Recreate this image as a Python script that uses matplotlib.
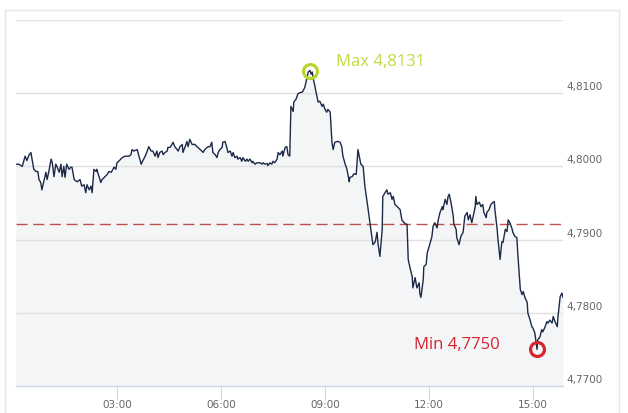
import matplotlib
matplotlib.use("Agg")
import matplotlib.pyplot as plt
from matplotlib.patches import Rectangle
import numpy as np

# minutes after midnight
minutes = [5, 10, 16, 21, 24, 28, 31, 35, 36, 40, 43, 45, 48, 50, 54, 57, 59, 62, 66, 68,
           71, 74, 76, 80, 83, 85, 88, 90, 93, 97, 100, 102, 106, 111, 116, 119, 123, 126, 128, 132,
           135, 137, 140, 144, 145, 149, 152, 154, 158, 163, 166, 170, 175, 178, 180, 183, 189, 194, 201, 204,
           206, 209, 215, 218, 222, 223, 230, 235, 239, 242, 246, 249, 251, 254, 258, 260, 263, 267, 268, 272,
           275, 277, 280, 284, 286, 289, 293, 294, 298, 301, 303, 306, 310, 312, 315, 318, 320, 324, 327, 329,
           332, 336, 338, 341, 344, 346, 350, 353, 355, 358, 362, 363, 367, 370, 372, 376, 379, 381, 384, 388,
           389, 393, 396, 398, 402, 405, 407, 410, 414, 415, 419, 422, 424, 428, 431, 433, 436, 440, 441, 445,
           448, 450, 453, 457, 459, 462, 466, 467, 471, 474, 476, 479, 481, 485, 486, 490, 493, 497, 500, 502,
           505, 507, 509, 511, 514, 516, 518, 519, 521, 523, 524, 526, 528, 531, 535, 537, 540, 543, 545, 549,
           552, 554, 557, 561, 563, 566, 569, 571, 575, 578, 582, 583, 587, 590, 594, 597, 602, 606, 609, 614,
           618, 621, 623, 627, 630, 632, 635, 639, 640, 644, 647, 649, 653, 656, 658, 661, 665, 670, 673, 677,
           680, 682, 684, 687, 691, 692, 696, 699, 703, 704, 706, 710, 711, 715, 717, 720, 725, 727, 730, 734,
           736, 739, 743, 744, 748, 751, 753, 755, 758, 762, 763, 767, 768, 772, 775, 779, 782, 786, 788, 791,
           794, 796, 800, 801, 803, 807, 810, 813, 815, 819, 820, 824, 827, 831, 833, 834, 838, 839, 843, 846,
           848, 852, 855, 857, 860, 864, 865, 869, 872, 874, 878, 881, 883, 886, 890, 891, 895, 898, 900, 903,
           907, 908, 912, 915, 917, 921, 924, 926, 929, 933, 935, 938, 942, 943, 947, 950, 952]

rates = [4.8003, 4.8003, 4.8000, 4.8014, 4.8008, 4.8016, 4.8019, 4.8000, 4.7996, 4.7993,
         4.7993, 4.7982, 4.7978, 4.7968, 4.7982, 4.7992, 4.7982, 4.7993, 4.8010, 4.8005,
         4.7986, 4.8003, 4.8000, 4.7992, 4.8003, 4.7986, 4.8000, 4.7985, 4.8003, 4.7996,
         4.7999, 4.7999, 4.7982, 4.7979, 4.7982, 4.7973, 4.7975, 4.7964, 4.7975, 4.7968,
         4.7973, 4.7964, 4.7996, 4.7993, 4.7996, 4.7986, 4.7978, 4.7982, 4.7985, 4.7989,
         4.7993, 4.7992, 4.7999, 4.7996, 4.8005, 4.8007, 4.8012, 4.8014, 4.8014, 4.8016,
         4.8023, 4.8021, 4.8023, 4.8014, 4.8003, 4.8005, 4.8016, 4.8027, 4.8021, 4.8021,
         4.8014, 4.8021, 4.8012, 4.8019, 4.8021, 4.8016, 4.8019, 4.8021, 4.8026, 4.8026,
         4.8030, 4.8033, 4.8027, 4.8023, 4.8021, 4.8027, 4.8030, 4.8019, 4.8027, 4.8034,
         4.8027, 4.8037, 4.8030, 4.8030, 4.8030, 4.8027, 4.8026, 4.8023, 4.8021, 4.8019,
         4.8023, 4.8026, 4.8027, 4.8027, 4.8033, 4.8019, 4.8016, 4.8012, 4.8019, 4.8023,
         4.8026, 4.8033, 4.8034, 4.8026, 4.8019, 4.8021, 4.8014, 4.8019, 4.8012, 4.8014,
         4.8010, 4.8012, 4.8007, 4.8012, 4.8007, 4.8010, 4.8007, 4.8010, 4.8005, 4.8007,
         4.8003, 4.8005, 4.8005, 4.8005, 4.8003, 4.8005, 4.8003, 4.8004, 4.8001, 4.8005,
         4.8003, 4.8007, 4.8005, 4.8010, 4.8019, 4.8016, 4.8021, 4.8014, 4.8026, 4.8027,
         4.8016, 4.8014, 4.8082, 4.8075, 4.8088, 4.8092, 4.8099, 4.8101, 4.8101, 4.8103,
         4.8108, 4.8115, 4.8122, 4.8129, 4.8131, 4.8126, 4.8129, 4.8123, 4.8115, 4.8108,
         4.8103, 4.8096, 4.8088, 4.8089, 4.8082, 4.8085, 4.8078, 4.8074, 4.8078, 4.8074,
         4.8033, 4.8023, 4.8033, 4.8034, 4.8034, 4.8033, 4.8027, 4.8014, 4.8003, 4.7996,
         4.7979, 4.7985, 4.7986, 4.7990, 4.7989, 4.8023, 4.8003, 4.8000, 4.7973, 4.7945,
         4.7921, 4.7904, 4.7893, 4.7897, 4.7910, 4.7893, 4.7877, 4.7914, 4.7959, 4.7964,
         4.7968, 4.7962, 4.7964, 4.7955, 4.7959, 4.7948, 4.7945, 4.7941, 4.7927, 4.7923,
         4.7921, 4.7921, 4.7873, 4.7862, 4.7849, 4.7834, 4.7848, 4.7834, 4.7841, 4.7827,
         4.7821, 4.7845, 4.7863, 4.7866, 4.7882, 4.7890, 4.7904, 4.7918, 4.7923, 4.7916,
         4.7927, 4.7937, 4.7945, 4.7941, 4.7955, 4.7948, 4.7959, 4.7962, 4.7951, 4.7932,
         4.7921, 4.7914, 4.7903, 4.7893, 4.7904, 4.7910, 4.7932, 4.7937, 4.7927, 4.7934,
         4.7923, 4.7930, 4.7945, 4.7959, 4.7948, 4.7951, 4.7945, 4.7948, 4.7937, 4.7930,
         4.7937, 4.7941, 4.7948, 4.7951, 4.7952, 4.7941, 4.7914, 4.7903, 4.7873, 4.7897,
         4.7896, 4.7914, 4.7911, 4.7927, 4.7923, 4.7914, 4.7910, 4.7904, 4.7903, 4.7877,
         4.7832, 4.7825, 4.7829, 4.7821, 4.7814, 4.7800, 4.7790, 4.7781, 4.7779, 4.7773,
         4.7750, 4.7763, 4.7767, 4.7777, 4.7774, 4.7781, 4.7788, 4.7786, 4.7790, 4.7786,
         4.7795, 4.7788, 4.7781, 4.7793, 4.7822, 4.7827, 4.7821]

y_ticks = [4.77, 4.78, 4.79, 4.80, 4.81, 4.82]
y_labels = ["4,7700", "4,7800", "4,7900", "4,8000", "4,8100", ""]
x_ticks = [180, 360, 540, 720, 900]
x_labels = ["03:00", "06:00", "09:00", "12:00", "15:00"]
ref_rate = 4.7921
max_label = "Max 4,8131"
min_label = "Min 4,7750"

W, H = 628, 413
fig = plt.figure(figsize=(W / 100, H / 100), dpi=100)
fig.patches.append(Rectangle((5 / W, -0.1), 614 / W, 1 - 10 / H + 0.1,
                             transform=fig.transFigure, fill=False,
                             edgecolor='#e6e6e6', lw=1))
ax = fig.add_axes([16 / W, 1 - 386 / H, 547 / W, 366 / H])
ax.set_xlim(5.2, 951.9)
ax.set_ylim(4.77, 4.82)
ax.patch.set_visible(False)

ax.fill_between(minutes, rates, 4.77, color='#f4f5f7', lw=0, zorder=1)
for v in y_ticks[1:]:
    ax.axhline(v, color='#e0e0e0', lw=1, zorder=2)
ax.axhline(ref_rate, color='#c0504d', lw=1, dashes=(8, 4), zorder=2.5)
ax.plot(minutes, rates, color='#1c2a48', lw=1, zorder=3)

for s in ['top', 'left', 'right']:
    ax.spines[s].set_visible(False)
ax.spines['bottom'].set_color('#ccd6eb')
ax.spines['bottom'].set_linewidth(1)

ax.set_xticks(x_ticks, x_labels)
ax.tick_params(axis='x', length=10, color='#ccd6eb', labelcolor='#666666',
               labelsize=7.5, pad=0)
ax.set_yticks([])
for v, lab in zip(y_ticks, y_labels):
    ax.annotate(lab, xy=(1, v), xycoords=('axes fraction', 'data'),
                xytext=(3, 6), textcoords='offset pixels',
                ha='left', va='center', fontsize=7.5, color='#666666',
                annotation_clip=False)

imax = int(np.argmax(rates))
imin = int(np.argmin(rates))
ax.plot(minutes[imax], rates[imax], 'o', ms=10, mfc='none', mec='#b9d52f',
        mew=2.3, zorder=5, clip_on=False)
ax.plot(minutes[imin], rates[imin], 'o', ms=10, mfc='none', mec='#d7242f',
        mew=2.3, zorder=5, clip_on=False)
ax.annotate(max_label, xy=(minutes[imax], rates[imax]),
            xytext=(26, 9), textcoords='offset pixels', ha='left', va='center',
            fontsize=12, color='#c0dc40', family='Open Sans')
ax.annotate(min_label, xy=(minutes[imin], rates[imin]),
            xytext=(-37, 4), textcoords='offset pixels', ha='right', va='center',
            fontsize=12, color='#d7242f', family='Open Sans')

fig.savefig('out.png', dpi=100)
